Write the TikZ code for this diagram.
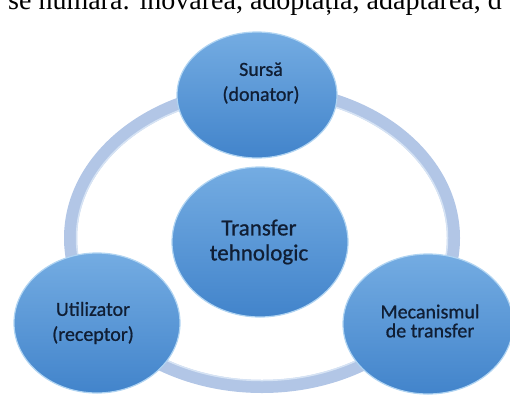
\documentclass[tikz,border=0pt]{standalone}
\usepackage{fontspec}
\setmainfont{Liberation Serif}
\newfontfamily\carlito[FakeBold=0.8]{Carlito}
\usetikzlibrary{shapes.geometric}
\definecolor{ringc}{RGB}{178,198,230}
\definecolor{ringin}{RGB}{214,227,244}
\definecolor{bubtop}{RGB}{116,172,226}
\definecolor{bubbot}{RGB}{66,132,203}
\definecolor{bubrim}{RGB}{176,212,242}
\definecolor{txtc}{RGB}{16,30,52}
\begin{document}
\begin{tikzpicture}[x=1pt,y=-1pt,
  bubble/.style={ellipse, inner sep=0pt, top color=bubtop, bottom color=bubbot, draw=bubrim, line width=1.2pt},
  lbl/.style={align=center, text=txtc, font=\carlito\fontsize{20}{25}\selectfont, inner sep=0pt},
  ringline/.style={draw=ringc, line width=13pt},
  ringhi/.style={draw=ringin, line width=1.5pt}
]
\useasboundingbox (0,0) rectangle (510,394);
% ring
\draw[ringline] (262,238) ellipse [x radius=191.5, y radius=148.5];
\draw[ringhi] (262,238) ellipse [x radius=185.5, y radius=142.5];
% cut-off line of text above
\node[anchor=base west, inner sep=0pt, font=\fontsize{28}{30}\selectfont] (intro) at (8,9.5) {se numără: inovarea, adoptația, adaptarea, d};
% bubbles
\node[bubble, minimum width=160pt, minimum height=126pt] (src) at (257,95) {};
\node[bubble, minimum width=176pt, minimum height=150pt] (ctr) at (260,242) {};
\node[bubble, minimum width=166pt, minimum height=140pt] (usr) at (97,323) {};
\node[bubble, minimum width=170pt, minimum height=140pt] (mec) at (428,324) {};
% labels
\node[lbl] (srcL) at (261,83) {Sursă\\(donator)};
\node[lbl, font=\carlito\fontsize{23}{25}\selectfont] (ctrL) at (259,242) {Transfer\\tehnologic};
\node[lbl] (usrL) at (93,323) {Utilizator\\(receptor)};
\node[lbl, font=\carlito\fontsize{20}{19}\selectfont] (mecL) at (430,321) {Mecanismul\\de transfer};
\end{tikzpicture}
\end{document}
